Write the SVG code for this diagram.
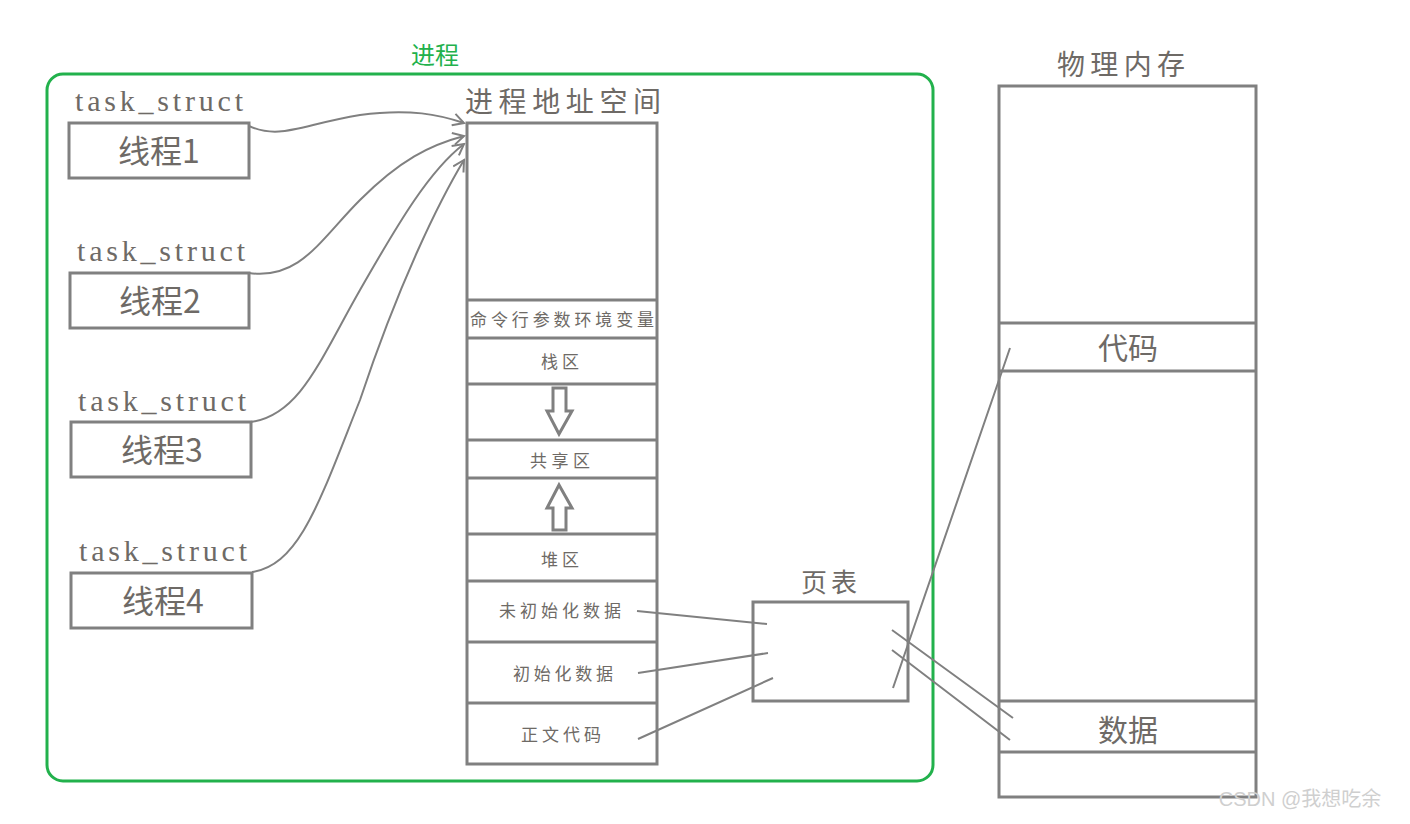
<svg xmlns="http://www.w3.org/2000/svg" width="1410" height="824" viewBox="0 0 1410 824">
<style>
.b{fill:none;stroke:#808080;stroke-width:3}
.l{fill:none;stroke:#808080;stroke-width:2}
.t{font-family:"Liberation Serif","Noto Sans CJK SC",serif;fill:#6e6a66}
.c{font-family:"Noto Sans CJK SC",sans-serif;fill:#6e6a66;text-anchor:middle}
</style>
<defs><marker id="a" markerWidth="14" markerHeight="14" refX="12" refY="7" orient="auto" markerUnits="userSpaceOnUse"><path d="M1,1 L12,7 L1,13" fill="none" stroke="#808080" stroke-width="2"/></marker></defs>
<rect width="1410" height="824" fill="#fff"/>
<g id="process"><rect x="47" y="74" width="886" height="707" rx="16" fill="none" stroke="#22b14c" stroke-width="3"/>
<text x="435" y="64" class="c" font-size="24" style="fill:#22b14c">进程</text></g>
<g id="threads">
<g id="t1"><text x="75" y="111" class="t" font-size="30" textLength="168">task_struct</text><rect x="69" y="123" width="180" height="55" class="b"/><text x="159" y="163" class="c" font-size="32">线程1</text></g>
<g id="t2"><text x="77" y="261" class="t" font-size="30" textLength="168">task_struct</text><rect x="70" y="273" width="179" height="55" class="b"/><text x="160" y="313" class="c" font-size="32">线程2</text></g>
<g id="t3"><text x="78" y="411" class="t" font-size="30" textLength="168">task_struct</text><rect x="71" y="422" width="180" height="55" class="b"/><text x="162" y="462" class="c" font-size="32">线程3</text></g>
<g id="t4"><text x="79" y="561" class="t" font-size="30" textLength="168">task_struct</text><rect x="71" y="573" width="181" height="55" class="b"/><text x="163" y="613" class="c" font-size="32">线程4</text></g>
</g>
<g id="addr">
<text x="563" y="112" class="c" font-size="28" textLength="196">进程地址空间</text>
<rect x="467" y="123" width="190" height="641" class="b"/>
<path class="b" d="M467,300H657M467,338H657M467,384H657M467,440H657M467,478H657M467,534H657M467,581H657M467,642H657M467,703H657"/>
<text x="562" y="326" class="c" font-size="17" textLength="184">命令行参数环境变量</text>
<text x="560" y="368" class="c" font-size="17" textLength="38">栈区</text>
<path class="b" d="M553,388H566V411H572L559,434L547,411H553Z"/>
<text x="560" y="467" class="c" font-size="17" textLength="60">共享区</text>
<path class="b" d="M553,530H566V508H572L559,485L547,508H553Z"/>
<text x="560" y="566" class="c" font-size="17" textLength="38">堆区</text>
<text x="560" y="617" class="c" font-size="17" textLength="122">未初始化数据</text>
<text x="563" y="680" class="c" font-size="17" textLength="100">初始化数据</text>
<text x="561" y="741" class="c" font-size="17" textLength="80">正文代码</text>
</g>
<g id="pagetable"><text x="829" y="592" class="c" font-size="26" textLength="56">页表</text><rect x="753" y="602" width="155" height="99" class="b"/></g>
<g id="phys"><text x="1121" y="75" class="c" font-size="28" textLength="128">物理内存</text>
<rect x="999" y="86" width="257" height="711" class="b"/>
<path class="b" d="M999,323H1256M999,371H1256M999,701H1256M999,752H1256"/>
<text x="1128" y="359" class="c" font-size="30">代码</text>
<text x="1128" y="741" class="c" font-size="30">数据</text></g>
<g id="connectors">
<path class="l" marker-end="url(#a)" d="M249,126C280,140 300,125 360,115C410,108 440,115 464,123"/>
<path class="l" marker-end="url(#a)" d="M249,273C300,280 320,240 360,200C400,160 430,145 464,136"/>
<path class="l" marker-end="url(#a)" d="M251,422C300,415 320,360 360,290C400,220 430,170 464,144"/>
<path class="l" marker-end="url(#a)" d="M252,572C300,565 320,500 360,400C400,280 440,200 464,160"/>
<path class="l" d="M637,611L767,624M638,673L768,653M638,739L773,678M892,630L1013,718M892,650L1010,740M893,688L1010,348"/>
</g>
<text x="1300" y="806" font-family="Liberation Sans,Noto Sans CJK SC,sans-serif" font-size="20" fill="#cfcfcf" text-anchor="middle">CSDN @我想吃余</text>
</svg>
